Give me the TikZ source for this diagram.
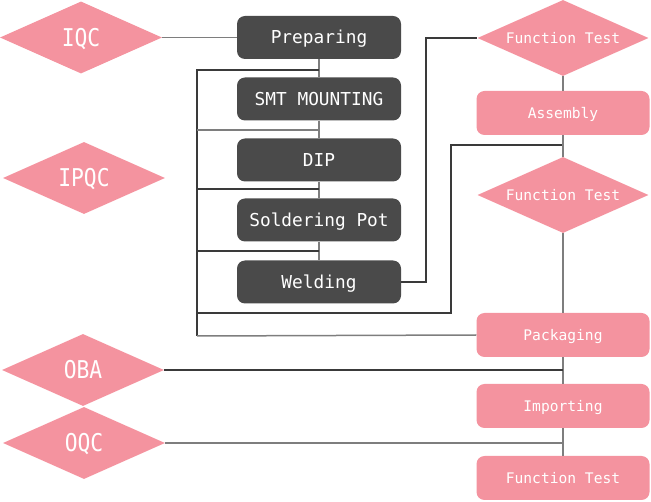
\documentclass[tikz,border=0pt]{standalone}
\usepackage{fontspec}
\usetikzlibrary{shapes.geometric}
\newfontfamily\monof{DejaVu Sans Mono}
\newfontfamily\monoc[FakeStretch=0.87]{DejaVu Sans Mono}
\definecolor{pinkc}{HTML}{F4939F}
\definecolor{darkc}{HTML}{4A4A4A}
\definecolor{lnd}{HTML}{3A3A3A}
\definecolor{lng}{HTML}{7E7E7E}
\tikzset{
  darkbox/.style={rounded corners=8pt, fill=darkc, minimum width=164pt, minimum height=43pt, inner sep=0pt, text=white, text height=13pt, text depth=0pt, font=\monof\fontsize{17.8}{20}\selectfont},
  pinkbox/.style={rounded corners=8pt, fill=pinkc, minimum width=173pt, minimum height=44pt, inner sep=0pt, text=white, text height=11pt, text depth=0pt, font=\monof\fontsize{14.6}{17}\selectfont},
  pinkdia/.style={diamond, aspect=2.2, fill=pinkc, minimum width=171pt, minimum height=76pt, inner sep=0pt, text=white, text height=11pt, text depth=0pt, font=\monof\fontsize{14.6}{17}\selectfont},
  bigdia/.style={diamond, aspect=2.2, fill=pinkc, minimum width=162pt, minimum height=72pt, inner sep=0pt, text=white, text height=18pt, text depth=0pt, font=\monoc\fontsize{24.5}{26}\selectfont},
  dk/.style={draw=lnd, line width=1.2pt},
  gr/.style={draw=lng, line width=1.5pt},
}
\begin{document}
\begin{tikzpicture}[x=1pt,y=-1pt]
\useasboundingbox (0,0) rectangle (651,502);
% left diamonds
\node[bigdia] (iqc) at (81,37.5) {IQC};
\node[bigdia] (ipqc) at (84,178) {IPQC};
\node[bigdia] (oba) at (83,370) {OBA};
\node[bigdia] (oqc) at (84,443) {OQC};
% dark boxes
\node[darkbox] (prep) at (319,37.5) {Preparing};
\node[darkbox] (smt) at (319,99) {SMT MOUNTING};
\node[darkbox] (dip) at (319,160) {DIP};
\node[darkbox] (sol) at (319,220) {Soldering Pot};
\node[darkbox] (weld) at (319,282) {Welding};
% right column
\node[pinkdia] (ft1) at (563,38) {Function Test};
\node[pinkbox] (asm) at (563,113) {Assembly};
\node[pinkdia] (ft2) at (563,195) {Function Test};
\node[pinkbox] (pack) at (563,335) {Packaging};
\node[pinkbox] (imp) at (563,406) {Importing};
\node[pinkbox] (ft3) at (563,478) {Function Test};
% junction coordinates
\coordinate (j1) at (319,70);
\coordinate (j2) at (319,130);
\coordinate (j3) at (319,189);
\coordinate (j4) at (319,251);
\coordinate (b1) at (197,70);
\coordinate (b2) at (197,130);
\coordinate (b3) at (197,189);
\coordinate (b4) at (197,251);
\coordinate (b5) at (197,313);
\coordinate (b6) at (197,336);
\coordinate (w1) at (426,282);
\coordinate (f1) at (451,313);
\coordinate (f2) at (451,145);
\coordinate (a1) at (563,145);
% connectors
\draw[gr] (iqc.east) -- (prep.west);
\draw[gr] (prep.south) -- (smt.north);
\draw[gr] (smt.south) -- (dip.north);
\draw[gr] (dip.south) -- (sol.north);
\draw[gr] (sol.south) -- (weld.north);
\draw[dk] (j1) -- (b1) -- (b6);
\draw[gr] (j2) -- (b2);
\draw[dk] (j3) -- (b3);
\draw[dk] (j4) -- (b4);
\draw[dk] (b5) -- (f1) -- (f2) -- (a1);
\draw[gr] (b6) -- (pack.west);
\draw[dk] (weld.east) -- (w1) |- (ft1.west);
\draw[gr] (ft1.south) -- (asm.north);
\draw[gr] (asm.south) -- (ft2.north);
\draw[gr] (ft2.south) -- (pack.north);
\draw[gr] (pack.south) -- (imp.north);
\draw[gr] (imp.south) -- (ft3.north);
\draw[dk] (oba.east) -- (oba.east -| pack.south);
\draw[gr] (oqc.east) -- (oqc.east -| imp.south);
\end{tikzpicture}
\end{document}
